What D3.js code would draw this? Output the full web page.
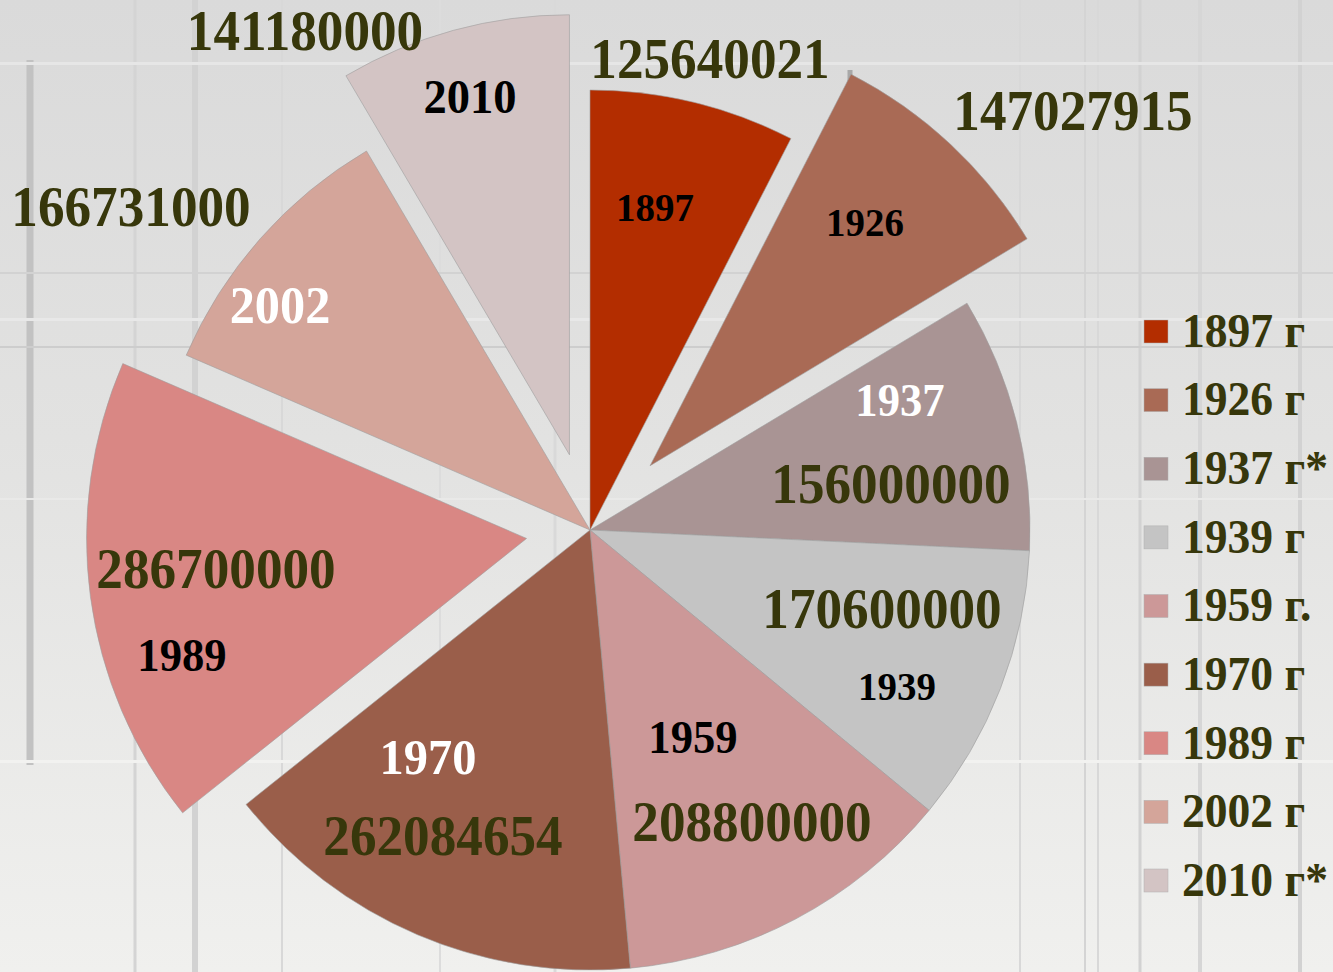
<!DOCTYPE html>
<html>
<head>
<meta charset="utf-8">
<script src="https://cdn.jsdelivr.net/npm/d3@7"></script>
<style>
  html, body { margin: 0; padding: 0; background: #e4e4e2; }
  svg { display: block; }
</style>
</head>
<body>
<div id="chart"></div>
<script>
// population by census year
var years = ["1897", "1926", "1937", "1939", "1959", "1970", "1989", "2002", "2010"];
var population = [125640021, 147027915, 156000000, 170600000, 208800000, 262084654, 286700000, 166731000, 141180000];
var legendLabels = ["1897 г", "1926 г", "1937 г*", "1939 г", "1959 г.", "1970 г", "1989 г", "2002 г", "2010 г*"];

var colors = ["#b32d00", "#a96a55", "#a99494", "#c4c4c4", "#cc9898", "#9a5e4a", "#d98784", "#d4a59a", "#d3c4c4"];
var explode = [0, 88, 0, 0, 0, 0, 64, 0, 78];
var yearColor = ["#000", "#000", "#fff", "#000", "#000", "#fff", "#000", "#fff", "#000"];

// label placement (annotation layout)
var valuePos = [[710, 60], [1073, 112], [891, 485], [882, 610], [752, 823], [443, 837], [216, 570], [131, 208], [305, 32]];
var yearPos = [[655, 207], [865, 222], [900, 400], [897, 686], [693, 737], [428, 757], [182, 655], [280, 306], [470, 97]];
var yearSize = [41, 41, 47, 41, 47, 51, 47, 53, 49];

var width = 1333, height = 972;
var cx = 590, cy = 530, radius = 440;

var svg = d3.select("#chart").append("svg")
    .attr("width", width)
    .attr("height", height);

// background
var defs = svg.append("defs");
var grad = defs.append("linearGradient").attr("id", "bg").attr("x1", 0).attr("y1", 0).attr("x2", 0).attr("y2", 1);
grad.append("stop").attr("offset", "0%").attr("stop-color", "#dadada");
grad.append("stop").attr("offset", "45%").attr("stop-color", "#e2e2e1");
grad.append("stop").attr("offset", "100%").attr("stop-color", "#f0f0ee");
svg.append("rect").attr("width", width).attr("height", height).attr("fill", "url(#bg)");

var bgLines = svg.append("g").attr("class", "bg-lines");
var vlines = [[30, 60, 765, 7, "#c2c2c2"], [135, 0, 972, 3, "#d4d4d4"], [195, 0, 972, 6, "#d2d2d2"], [282, 0, 972, 2, "#d8d8d8"],
              [555, 0, 972, 3, "#d9d9d9"], [850, 70, 105, 5, "#a8a8a8"], [1085, 0, 972, 2, "#d4d4d4"], [1098, 0, 972, 2, "#d8d8d8"],
              [1140, 0, 972, 3, "#d2d2d2"], [1200, 0, 972, 4, "#d6d6d6"], [1300, 0, 972, 4, "#d2d2d2"], [440, 0, 972, 2, "#dcdcdc"],
              [1020, 0, 972, 2, "#d8d8d8"]];
vlines.forEach(function(l) {
    bgLines.append("rect").attr("x", l[0] - l[3] / 2).attr("y", l[1])
        .attr("width", l[3]).attr("height", l[2] - l[1]).attr("fill", l[4]);
});
var hlines = [[62, "#e6e6e6", 3], [272, "#d2d2d2", 2], [318, "#e8e8e8", 3], [346, "#cdcdcd", 2], [498, "#e9e9e8", 2], [760, "#f2f2f0", 3]];
hlines.forEach(function(l) {
    bgLines.append("rect").attr("x", 0).attr("y", l[0]).attr("width", width).attr("height", l[2]).attr("fill", l[1]);
});

var pie = d3.pie().sort(null).value(function(d) { return d; });
var arc = d3.arc().innerRadius(0).outerRadius(radius);
var arcs = pie(population);

var g = svg.append("g").attr("transform", "translate(" + cx + "," + cy + ")");

g.selectAll("path.slice")
    .data(arcs)
    .enter().append("path")
    .attr("class", "slice")
    .attr("d", arc)
    .attr("fill", function(d, i) { return colors[i]; })
    .attr("stroke", "#9d9d9d")
    .attr("stroke-width", 0.6)
    .attr("transform", function(d, i) {
        var mid = (d.startAngle + d.endAngle) / 2;
        return "translate(" + (Math.sin(mid) * explode[i]) + "," + (-Math.cos(mid) * explode[i]) + ")";
    });

var font = "'Liberation Serif', 'Times New Roman', serif";

// value labels
svg.selectAll("text.value")
    .data(population)
    .enter().append("text")
    .attr("class", "value")
    .attr("transform", function(d, i) { return "translate(" + valuePos[i][0] + "," + valuePos[i][1] + ") scale(0.95,1)"; })
    .attr("text-anchor", "middle")
    .attr("dy", "0.33em")
    .attr("font-family", font)
    .attr("font-weight", "bold")
    .attr("font-size", 56)
    .attr("fill", "#37370b")
    .text(function(d) { return d; });

// year labels
svg.selectAll("text.year")
    .data(years)
    .enter().append("text")
    .attr("class", "year")
    .attr("transform", function(d, i) { return "translate(" + yearPos[i][0] + "," + yearPos[i][1] + ") scale(0.95,1)"; })
    .attr("text-anchor", "middle")
    .attr("dy", "0.33em")
    .attr("font-family", font)
    .attr("font-weight", "bold")
    .attr("font-size", function(d, i) { return yearSize[i]; })
    .attr("fill", function(d, i) { return yearColor[i]; })
    .text(function(d) { return d; });

// legend
var ly = d3.scalePoint().domain(years).range([331, 880]);
var legend = svg.append("g").attr("class", "legend");
var items = legend.selectAll("g.item")
    .data(years)
    .enter().append("g")
    .attr("class", "item")
    .attr("transform", function(d) { return "translate(1144," + ly(d) + ")"; });

items.append("rect")
    .attr("x", 0).attr("y", -11)
    .attr("width", 24).attr("height", 23)
    .attr("fill", function(d, i) { return colors[i]; })
    .attr("stroke", "#b0b0b0")
    .attr("stroke-width", 0.5);

items.append("text")
    .attr("transform", "translate(38,0) scale(0.95,1)")
    .attr("dy", "0.33em")
    .attr("font-family", font)
    .attr("font-weight", "bold")
    .attr("font-size", 48)
    .attr("fill", "#37370b")
    .text(function(d, i) { return legendLabels[i]; });
</script>
</body>
</html>
